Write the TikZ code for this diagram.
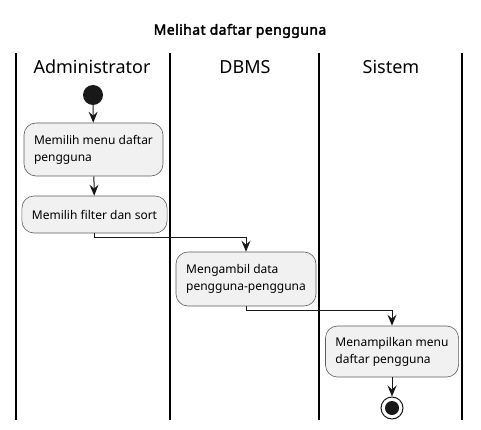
\documentclass[tikz,border=0pt]{standalone}
\usepackage{fontspec}
\setmainfont{Noto Sans}
\newfontfamily\ttlfont{Noto Sans}[FakeBold=2.5,LetterSpace=3]
\usetikzlibrary{arrows.meta}
\definecolor{actfill}{HTML}{F1F1F1}
\definecolor{ink}{HTML}{181818}
\tikzset{
  act/.style={draw=ink!70, fill=actfill, line width=0.6pt, rounded corners=12pt,
    align=left, inner xsep=10pt, inner ysep=5pt, font=\fontsize{12}{17}\selectfont},
  arr/.style={draw=ink, line width=1pt, -{Stealth[length=11pt,width=9pt,inset=4pt]}},
  lane/.style={draw=black, line width=1.5pt},
  startdot/.style={circle, fill=ink, minimum size=20pt, inner sep=0pt},
  enddot/.style={circle, draw=ink, line width=1pt, minimum size=22pt, inner sep=0pt}
}

\begin{document}
\begin{tikzpicture}[x=1pt,y=-1pt]
  \useasboundingbox (0,0) rectangle (481,430);
  \node[font=\ttlfont\fontsize{14}{16}\selectfont] (ttl) at (240,31) {Melihat daftar pengguna};
  \foreach \x in {16,170,319,462} \draw[lane] (\x,53) -- (\x,420);
  \node[font=\fontsize{18}{22}\selectfont] (adm) at (92,67) {Administrator};
  \node[font=\fontsize{18}{22}\selectfont] (dbms) at (245,67) {DBMS};
  \node[font=\fontsize{18}{22}\selectfont] (sys) at (391,67) {Sistem};

  \node[startdot] (st) at (93,95) {};
  \node[act, minimum width=139pt, minimum height=53pt] (n1) at (93.5,149.5) {Memilih menu daftar\\pengguna};
  \node[act, minimum width=145pt, minimum height=37pt] (n2) at (94.5,214.5) {Memilih filter dan sort};
  \node[act, minimum width=140pt, minimum height=54pt] (n3) at (246,279) {Mengambil data\\pengguna-pengguna};
  \node[act, minimum width=132pt, minimum height=51pt] (n4) at (392,351.5) {Menampilkan menu\\daftar pengguna};
  \node[enddot] (en) at (392,408) {};
  \fill[ink] (en.center) circle (7pt);

  \draw[arr] (st) -- (n1);
  \draw[arr] (n1) -- (n2);
  \draw[arr] (n2.south) -- ++(0,4) -| (n3.north);
  \draw[arr] (n3.south) -- ++(0,4) -| (n4.north);
  \draw[arr] (n4) -- (en);
\end{tikzpicture}
\end{document}
